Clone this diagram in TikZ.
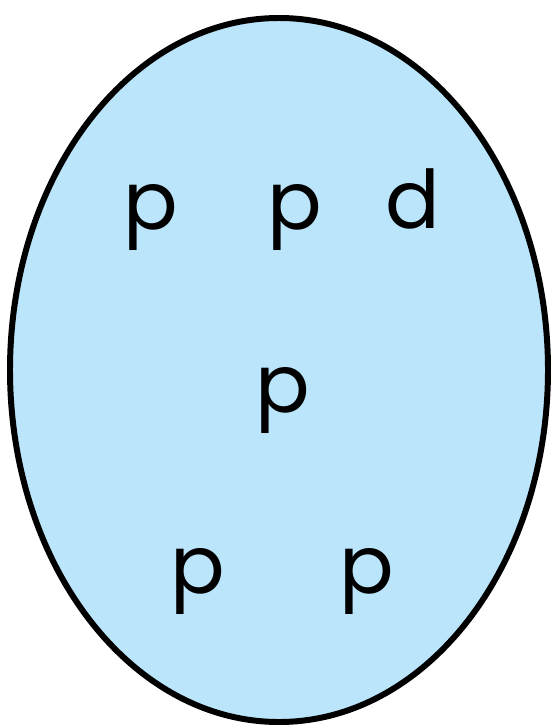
\documentclass[tikz,border=0pt]{standalone}
\usepackage{fontspec}
\setmainfont{Poppins}
\usepackage{tikz}
\usetikzlibrary{shapes,positioning}
\definecolor{setblue}{RGB}{186,229,250}

\begin{document}
\begin{tikzpicture}[
  setshape/.style={draw=black, line width=3.4pt, fill=setblue},
  elem/.style={inner sep=0pt, anchor=base, font=\fontsize{46}{46}\selectfont}
]
\useasboundingbox (0,0) rectangle (11.04,-14.54);
% the set
\draw[setshape] (5.58,-7.40) ellipse (5.38cm and 7.04cm);
% elements
\node[elem] (P1) at (3.02,-4.58) {p};
\node[elem] (P2) at (5.90,-4.58) {p};
\node[elem] (D1) at (8.26,-4.56) {d};
\node[elem] (P3) at (5.66,-8.24) {p};
\node[elem] (P4) at (3.96,-11.86) {p};
\node[elem] (P5) at (7.34,-11.86) {p};
\end{tikzpicture}
\end{document}
